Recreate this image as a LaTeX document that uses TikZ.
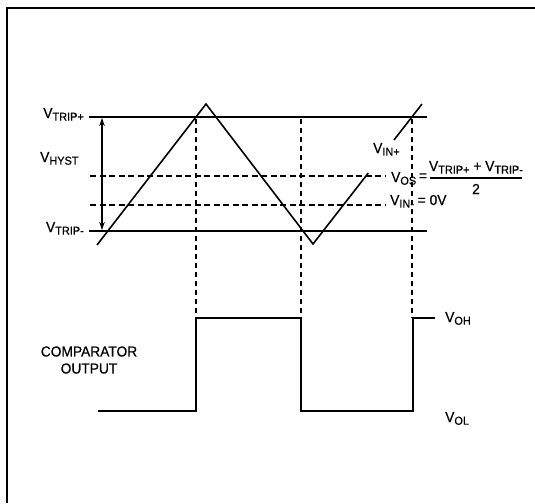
\documentclass[tikz,border=0pt]{standalone}
\usepackage{fontspec}
\setmainfont{Liberation Sans}[FakeBold=0.6,FakeStretch=0.95]
\usetikzlibrary{arrows.meta,calc}
\newcommand\sbs[1]{\raisebox{-0.35ex}{\fontsize{11.5}{11.5}\selectfont #1}}
\begin{document}
\begin{tikzpicture}[x=1pt,y=-1pt,
  lbl/.style={inner sep=0pt, font=\fontsize{14.5}{17}\selectfont},
  solidline/.style={line width=1.6pt},
  dashline/.style={line width=1.4pt, dash pattern=on 6pt off 3.5pt},
  vdash/.style={line width=1.4pt, dash pattern=on 5pt off 4pt},
  wave/.style={line width=1.6pt, line join=miter},
  frame/.style={line width=2pt}]
\useasboundingbox (0,0) rectangle (535,503);
% frame
\coordinate (fb) at (7,503);
\coordinate (fc) at (7,8);
\coordinate (fr) at (535,8);
\draw[frame] (fb) -- (fc) -- (fr);
% reference levels
\coordinate (tpL) at (89,117); \coordinate (tpR) at (427,117);
\coordinate (tmL) at (89,231); \coordinate (tmR) at (427,231);
\coordinate (osL) at (90,176); \coordinate (osR) at (386,176);
\coordinate (inL) at (90,205); \coordinate (inR) at (386,205);
\draw[solidline] (tpL) -- (tpR);
\draw[solidline] (tmL) -- (tmR);
\draw[dashline] (osL) -- (osR);
\draw[dashline] (inL) -- (inR);
% hysteresis arrow
\coordinate (a1) at (102,118); \coordinate (a2) at (102,230);
\draw[line width=1.2pt, {Stealth[length=8pt,width=5.5pt]}-{Stealth[length=8pt,width=5.5pt]}] (a1) -- (a2);
% triangle input
\coordinate (w0) at (97,245);
\coordinate (w1) at (206,104);
\coordinate (w2) at (313,244);
\coordinate (w3) at (422,104);
\coordinate (g1) at ($(w2)!0.507!(w3)$);
\coordinate (g2) at ($(w2)!0.743!(w3)$);
\draw[wave] (w0) -- (w1) -- (w2) -- (g1);
\draw[wave] (g2) -- (w3);
% vertical dashed
\coordinate (d1t) at (196,119); \coordinate (d1b) at (196,318);
\coordinate (d2t) at (301,119); \coordinate (d2b) at (301,318);
\coordinate (d3t) at (412,119); \coordinate (d3b) at (412,318);
\draw[vdash] (d1t) -- (d1b);
\draw[vdash] (d2t) -- (d2b);
\draw[vdash] (d3t) -- (d3b);
% comparator output
\coordinate (s0) at (98,411);
\coordinate (s1) at (196,411);
\coordinate (s2) at (196,318);
\coordinate (s3) at (301,318);
\coordinate (s4) at (301,411);
\coordinate (s5) at (413,411);
\coordinate (s6) at (413,318);
\coordinate (s7) at (435,318);
\draw[wave] (s0) -- (s1) -- (s2) -- (s3) -- (s4) -- (s5) -- (s6) -- (s7);
% labels
\node[lbl, anchor=base east] (ltp) at (84,118) {V\sbs{TRIP+}};
\node[lbl, anchor=base west] (lhy) at (40,162) {V\sbs{HYST}};
\node[lbl, anchor=base east] (ltm) at (84,232) {V\sbs{TRIP-}};
\node[lbl, anchor=base west] (lip) at (373,153) {V\sbs{IN+}};
\node[lbl, anchor=base west] (los) at (391,182) {V\sbs{OS}};
\node[lbl] (leq) at (423,177) {=};
\node[lbl, anchor=base] (lnum) at (476,171) {V\sbs{TRIP+} + V\sbs{TRIP-}};
\coordinate (b1) at (430,178); \coordinate (b2) at (522,178);
\draw[line width=1.1pt] (b1) -- (b2);
\node[lbl] (lden) at (476,189) {2};
\node[lbl, anchor=base west] (lin) at (390,205) {V\sbs{IN-} = 0V};
\node[lbl, anchor=base west] (loh) at (445,322) {V\sbs{OH}};
\node[lbl, anchor=base west] (lol) at (445,422) {V\sbs{OL}};
\node[lbl, align=center] (lco) at (89,360) {COMPARATOR\\OUTPUT};
\end{tikzpicture}
\end{document}
